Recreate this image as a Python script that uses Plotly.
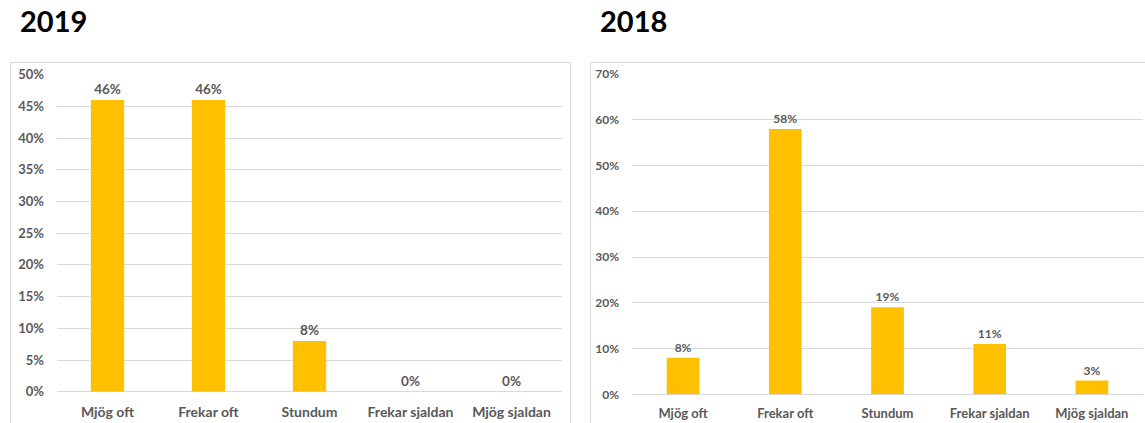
import plotly.graph_objects as go

categories = ["Mjög oft", "Frekar oft", "Stundum", "Frekar sjaldan", "Mjög sjaldan"]
values_2019 = [46, 46, 8, 0, 0]
values_2018 = [8, 58, 19, 11, 3]
titles = ["2019", "2018"]

W, H = 1145, 423
BAR = "#FFC000"
TXT = "#595959"
GRID = "#D9D9D9"
FONT = "Lato"

def px(x):
    return x / W

def py(y):
    return (H - y) / H

fig = go.Figure()
fig.add_trace(go.Bar(
    x=categories, y=values_2019, xaxis="x", yaxis="y",
    marker=dict(color=BAR, line=dict(width=0)), width=0.33,
    text=[f"{v}%" for v in values_2019], texttemplate="%{text}",
    textposition="outside", cliponaxis=False,
    textfont=dict(family=FONT, size=13.5, color=TXT, weight="bold"),
    showlegend=False, hoverinfo="skip"))
fig.add_trace(go.Bar(
    x=categories, y=values_2018, xaxis="x2", yaxis="y2",
    marker=dict(color=BAR, line=dict(width=0)), width=0.32,
    text=[f"{v}%" for v in values_2018], texttemplate="%{text}",
    textposition="outside", cliponaxis=False,
    textfont=dict(family=FONT, size=12, color=TXT, weight="bold"),
    showlegend=False, hoverinfo="skip"))

common_x = dict(type="category", showgrid=False, showline=False, zeroline=False,
                ticks="", ticklabelstandoff=10, fixedrange=True, automargin=False)
common_y = dict(ticksuffix="%", showgrid=True, gridcolor=GRID, gridwidth=1,
                zeroline=True, zerolinecolor=GRID, zerolinewidth=1, showline=False,
                ticks="", ticklabelstandoff=12, automargin=False, fixedrange=True)
fig.update_layout(
    width=W, height=H, margin=dict(l=0, r=0, t=0, b=0, autoexpand=False),
    paper_bgcolor="white", plot_bgcolor="white",
    font=dict(family=FONT, color=TXT),
    xaxis=dict(domain=[px(57), px(562)], anchor="y",
               tickfont=dict(family=FONT, size=14, color=TXT, weight="bold"), **common_x),
    yaxis=dict(domain=[py(391.7), py(74.7)], anchor="x", range=[0, 50], dtick=5,
               tickfont=dict(family=FONT, size=13, color=TXT, weight="bold"), **common_y),
    xaxis2=dict(domain=[px(632), px(1143)], anchor="y2",
                tickfont=dict(family=FONT, size=13, color=TXT, weight="bold"), **common_x),
    yaxis2=dict(domain=[py(394.3), py(74)], anchor="x2", range=[0, 70], dtick=10,
                tickfont=dict(family=FONT, size=12, color=TXT, weight="bold"), **common_y),
    shapes=[
        dict(type="rect", xref="paper", yref="paper",
             x0=px(10.5), x1=px(570.5), y0=-0.05, y1=py(62.5),
             line=dict(color=GRID, width=1), fillcolor="rgba(0,0,0,0)", layer="below"),
        dict(type="rect", xref="paper", yref="paper",
             x0=px(590.5), x1=1.05, y0=-0.05, y1=py(62.5),
             line=dict(color=GRID, width=1), fillcolor="rgba(0,0,0,0)", layer="below"),
    ],
    annotations=[
        dict(text=titles[0], xref="paper", yref="paper", x=px(18), y=py(21),
             xanchor="left", yanchor="middle", showarrow=False,
             font=dict(family=FONT, size=29, color="black", weight="bold")),
        dict(text=titles[1], xref="paper", yref="paper", x=px(598), y=py(21),
             xanchor="left", yanchor="middle", showarrow=False,
             font=dict(family=FONT, size=29, color="black", weight="bold")),
    ],
)

fig.write_html("out.html", config={"displayModeBar": False},
               post_script="document.body.style.margin='0';document.body.style.overflow='hidden';")
